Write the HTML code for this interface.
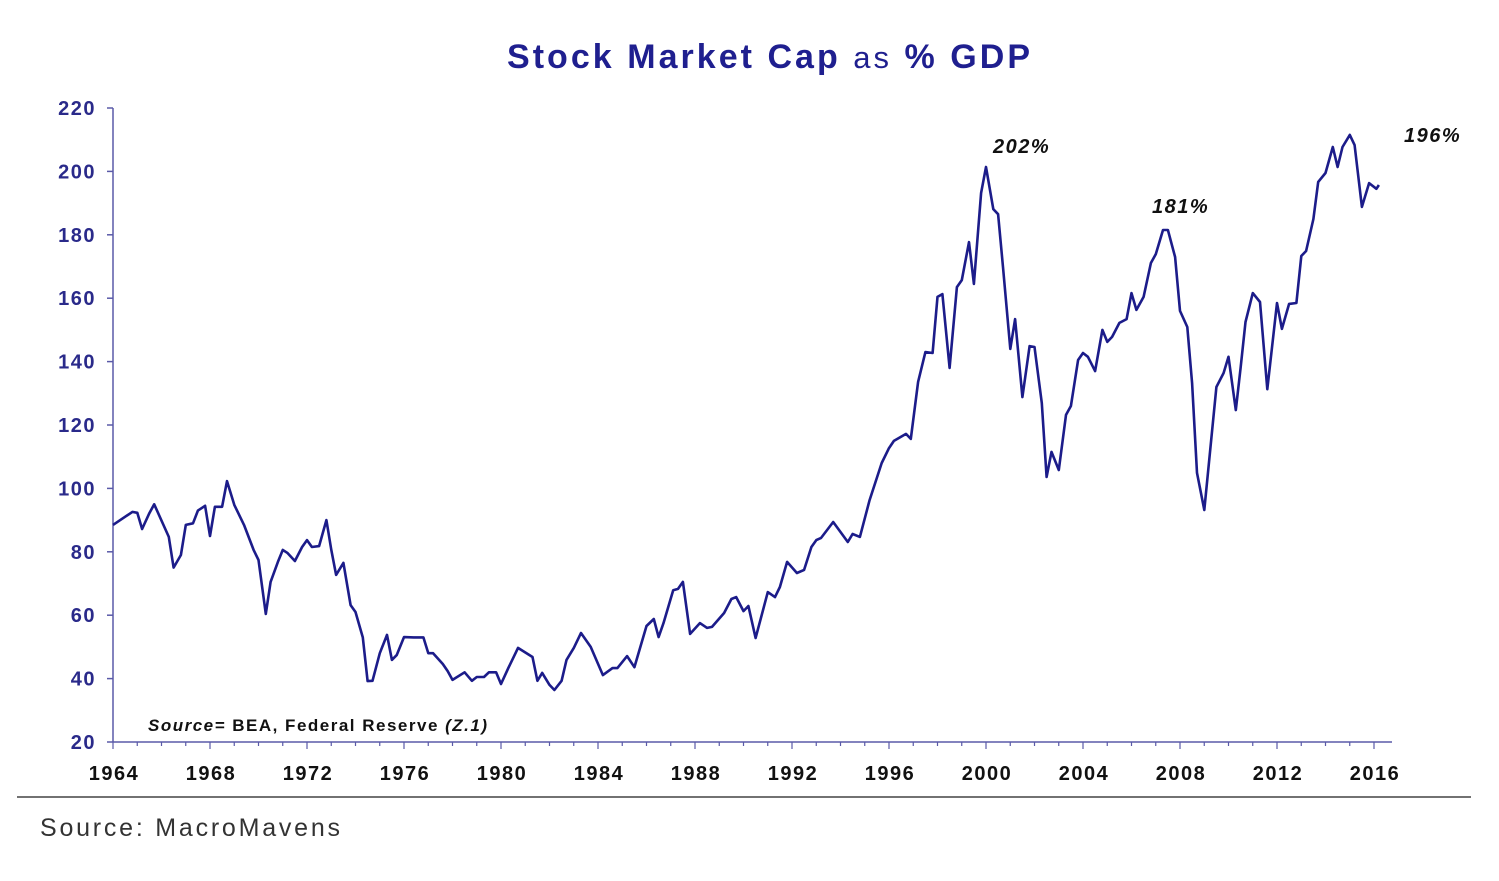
<!DOCTYPE html>
<html><head><meta charset="utf-8"><style>
html,body{margin:0;padding:0;background:#fff;}
svg{display:block;font-family:"Liberation Sans",Arial,sans-serif;}
</style></head><body>
<svg id="chart" width="1499" height="881" viewBox="0 0 1499 881">
<text x="507" y="68" font-size="34" font-weight="bold" fill="#1f1f8f" textLength="523" lengthAdjust="spacing">Stock Market Cap <tspan font-weight="normal" font-size="31">as</tspan> % GDP</text>
<g id="axes"></g>
<g id="series"></g>
<text x="993" y="153" font-size="20" font-weight="bold" font-style="italic" fill="#111" letter-spacing="1.5">202%</text>
<text x="1152" y="213" font-size="20" font-weight="bold" font-style="italic" fill="#111" letter-spacing="1.5">181%</text>
<text x="1404" y="142" font-size="20" font-weight="bold" font-style="italic" fill="#111" letter-spacing="1.5">196%</text>
<text x="148" y="731" font-size="17" font-weight="bold" fill="#111" textLength="339" lengthAdjust="spacing"><tspan font-style="italic">Source=</tspan> BEA, Federal Reserve <tspan font-style="italic">(Z.1)</tspan></text>
<line x1="17" y1="797" x2="1471" y2="797" stroke="#444" stroke-width="1.5"/>
<text x="40" y="836" font-size="25" fill="#333" textLength="300" lengthAdjust="spacing">Source: MacroMavens</text>
</svg>
<script>
const years=[1964.0,1964.8,1965.0,1965.2,1965.5,1965.7,1966.3,1966.5,1966.8,1967.0,1967.3,1967.5,1967.8,1968.0,1968.2,1968.5,1968.7,1969.0,1969.4,1969.8,1970.0,1970.3,1970.5,1970.8,1971.0,1971.2,1971.5,1971.8,1972.0,1972.2,1972.5,1972.8,1973.0,1973.2,1973.5,1973.8,1974.0,1974.3,1974.5,1974.7,1975.0,1975.3,1975.5,1975.7,1976.0,1976.4,1976.8,1977.0,1977.2,1977.6,1977.8,1978.0,1978.5,1978.8,1979.0,1979.3,1979.5,1979.8,1980.0,1980.3,1980.6,1980.7,1981.3,1981.5,1981.7,1982.0,1982.2,1982.5,1982.7,1983.0,1983.3,1983.7,1984.2,1984.6,1984.8,1985.2,1985.5,1986.0,1986.3,1986.5,1986.7,1987.1,1987.3,1987.5,1987.8,1988.2,1988.5,1988.7,1989.2,1989.5,1989.7,1990.0,1990.2,1990.5,1991.0,1991.3,1991.5,1991.8,1992.2,1992.5,1992.8,1993.0,1993.2,1993.7,1994.3,1994.5,1994.8,1995.2,1995.7,1996.0,1996.2,1996.7,1996.9,1997.2,1997.5,1997.8,1998.0,1998.2,1998.5,1998.8,1999.0,1999.3,1999.5,1999.8,2000.0,2000.3,2000.5,2000.7,2001.0,2001.2,2001.5,2001.8,2002.0,2002.3,2002.5,2002.7,2003.0,2003.3,2003.5,2003.8,2004.0,2004.2,2004.5,2004.8,2005.0,2005.2,2005.5,2005.8,2006.0,2006.2,2006.5,2006.8,2007.0,2007.3,2007.5,2007.8,2008.0,2008.3,2008.5,2008.7,2009.0,2009.5,2009.8,2010.0,2010.3,2010.5,2010.7,2011.0,2011.3,2011.6,2012.0,2012.2,2012.5,2012.8,2013.0,2013.2,2013.5,2013.7,2014.0,2014.3,2014.5,2014.7,2015.0,2015.2,2015.5,2015.8,2016.1,2016.2];
const values=[88.5,92.6,92.3,87.2,92.2,95,84.7,75,79,88.5,89,93,94.5,85,94.2,94.2,102.3,94.8,88.5,80.6,77.4,60.4,70.5,76.8,80.6,79.6,77.1,81.5,83.7,81.5,81.8,90,80.6,72.7,76.5,63.2,61,53,39.2,39.3,48,53.8,45.9,47.4,53.1,53,53,48,48,44.6,42.4,39.6,42,39.3,40.5,40.5,42,42,38.3,43.3,48,49.7,46.8,39.3,41.8,38,36.4,39.3,45.9,49.7,54.4,50,41.1,43.3,43.3,47.1,43.6,56.6,58.8,53.1,57.5,67.9,68.3,70.5,54.1,57.5,56,56.3,60.7,65.1,65.7,61.3,62.9,52.8,67.3,65.7,68.9,76.8,73.3,74.3,81.5,83.7,84.4,89.4,83.1,85.6,84.7,96.3,108,112.7,115,117.2,115.6,133.6,143,142.7,160.4,161.3,138,163.5,165.7,177.7,164.5,193.2,201.4,188.1,186.5,169.8,144,153.4,128.8,144.9,144.6,126.9,103.6,111.5,105.8,123.2,126,140.5,142.7,141.5,137,150,146.2,147.8,152.2,153.4,161.6,156.3,160.4,171.1,173.9,181.5,181.5,173,156,150.9,133.2,104.9,93.2,132,136.4,141.5,124.7,138,152.5,161.6,158.8,131.3,158.5,150.3,158.2,158.5,173.3,174.9,185,196.7,199.5,207.7,201.4,207.7,211.5,208.3,188.8,196.3,194.5,195.7];
const yTicks=[20,40,60,80,100,120,140,160,180,200,220];
const xTicks=[1964,1968,1972,1976,1980,1984,1988,1992,1996,2000,2004,2008,2012,2016];

const NS="http://www.w3.org/2000/svg";
function xS(yr){return 113+(yr-1964)*24.25;}
function yS(v){return 742-(v-20)*3.17;}
function mk(tag,attrs,parent){const e=document.createElementNS(NS,tag);for(const k in attrs)e.setAttribute(k,attrs[k]);parent.appendChild(e);return e;}
const axes=document.getElementById('axes');
const col="#2a2a8a";
const ya=mk('line',{x1:113,y1:yS(220),x2:113,y2:742,stroke:"#5a5aa8","stroke-width":1.5},axes);


const xa=mk('line',{x1:113,y1:742,x2:1392,y2:742,stroke:"#5a5aa8","stroke-width":1.5},axes);


yTicks.forEach(t=>{
  const tk=mk('line',{x1:107,y1:yS(t),x2:113,y2:yS(t),stroke:"#5a5aa8","stroke-width":1.5},axes);
  
  
  const tx=mk('text',{x:96,y:yS(t)+7,"text-anchor":"end","font-size":20,"font-weight":"bold",fill:col,"letter-spacing":1.5},axes);
  tx.textContent=t;
  
  
});
for(let yr=1964;yr<=2016;yr++){
  const tk=mk('line',{x1:xS(yr),y1:742,x2:xS(yr),y2:yr%4===0?749:746,stroke:"#5a5aa8","stroke-width":1.2},axes);
  
  
}
xTicks.forEach(t=>{
  const tx=mk('text',{x:xS(t)+1,y:780,"text-anchor":"middle","font-size":20,"font-weight":"bold",fill:"#111","letter-spacing":1.5},axes);
  tx.textContent=t;
  
  
});
const pts=years.map((y,i)=>xS(y).toFixed(1)+","+yS(values[i]).toFixed(1)).join(" ");
const line=mk('polyline',{points:pts,fill:"none",stroke:"#1c1c8a","stroke-width":2.6,"stroke-linejoin":"round"},document.getElementById('series'));


</script>
</body></html>
